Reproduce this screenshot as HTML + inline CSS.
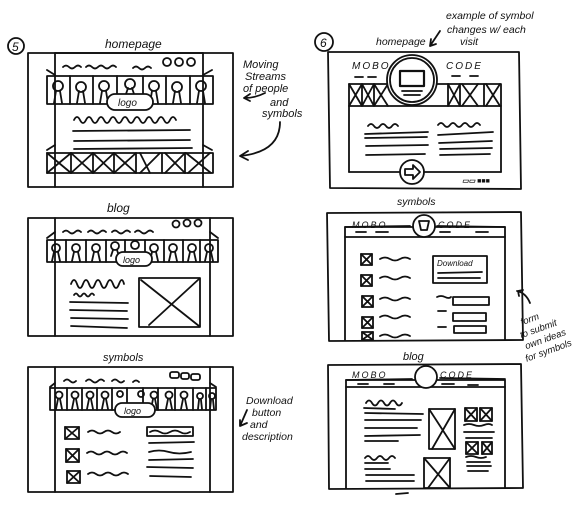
<!DOCTYPE html>
<html><head><meta charset="utf-8"><style>
html,body{margin:0;padding:0;background:#fff;width:576px;height:509px;overflow:hidden}
svg{display:block}
text{font-family:"Liberation Sans",sans-serif;font-style:italic;fill:#111}
</style></head><body>
<svg width="576" height="509" viewBox="0 0 576 509" xmlns="http://www.w3.org/2000/svg" fill="none" stroke="#111" stroke-width="1.8" stroke-linecap="round" stroke-linejoin="round">

<!-- ===== LEFT PANEL 1 : homepage ===== -->
<circle cx="16" cy="46" r="8"/>
<text x="12" y="51" font-size="12" stroke="none">5</text>
<text x="105" y="48" font-size="12" stroke="none">homepage</text>
<rect x="28" y="53" width="205" height="134"/>
<line x1="55" y1="53" x2="55" y2="187"/><line x1="203" y1="53" x2="203" y2="187"/>
<line x1="55" y1="53" x2="203" y2="53"/>
<path d="M63 67 q3 -3 6 0 t6 0 t6 0 M86 67 q3 -3 6 0 t6 0 t6 0 t6 0 t6 0 M133 68 q3 -3 6 0 t6 0 t6 0"/>
<circle cx="167" cy="62" r="4"/><circle cx="179" cy="62" r="4"/><circle cx="191" cy="62" r="4"/>
<path d="M47 70 L55 75 M203 75 L212 70"/>
<rect x="47" y="76" width="166" height="28"/>
<g>
<line x1="70" y1="76" x2="70" y2="104"/><line x1="93" y1="76" x2="93" y2="104"/><line x1="117" y1="76" x2="117" y2="104"/><line x1="143" y1="76" x2="143" y2="104"/><line x1="166" y1="76" x2="166" y2="104"/><line x1="190" y1="76" x2="190" y2="104"/>
</g>
<g>
<circle cx="58" cy="86" r="5"/><path d="M54 103 l2 -12 M62 103 l-2 -12"/>
<circle cx="81" cy="87" r="5"/><path d="M77 103 l2 -12 M85 103 l-2 -12"/>
<circle cx="104" cy="86" r="5"/><path d="M100 103 l2 -12 M108 103 l-2 -12"/>
<circle cx="130" cy="84" r="5"/><path d="M126 94 l2 -6 M134 94 l-2 -6"/>
<circle cx="154" cy="86" r="5"/><path d="M150 103 l2 -12 M158 103 l-2 -12"/>
<circle cx="177" cy="87" r="5"/><path d="M173 103 l2 -12 M181 103 l-2 -12"/>
<circle cx="201" cy="86" r="5"/><path d="M197 103 l2 -12 M205 103 l-2 -12"/>
</g>
<rect x="107" y="94" width="46" height="16" rx="8" fill="#fff"/>
<text x="118" y="106" font-size="10" stroke="none">logo</text>
<path d="M74 120 q3 -6 6 0 t6 0 t6 0 t6 0 t6 0 t6 0 t6 0 t6 0 t6 0 t6 0 t6 0 t6 0 t6 0 t6 0 t6 0 t6 0 t6 0"/>
<path d="M73 131 L190 130 M74 141 L190 140 M74 149 L192 148"/>
<path d="M47 150 L55 145 M203 145 L212 150"/>
<rect x="47" y="153" width="166" height="20"/>
<g>
<path d="M47 153 l24 20 M71 153 l-24 20"/>
<line x1="71" y1="153" x2="71" y2="173"/><path d="M71 153 l22 20 M93 153 l-22 20"/>
<line x1="93" y1="153" x2="93" y2="173"/><path d="M93 153 l21 20 M114 153 l-21 20"/>
<line x1="114" y1="153" x2="114" y2="173"/><path d="M114 153 l22 20 M136 153 l-22 20"/>
<line x1="136" y1="153" x2="136" y2="173"/><path d="M140 153 l10 20 M160 153 l-20 20"/>
<line x1="162" y1="153" x2="162" y2="173"/><path d="M165 153 l20 20 M185 153 l-20 20"/>
<line x1="185" y1="153" x2="185" y2="173"/><path d="M186 153 l25 20 M210 153 l-22 20"/>
</g>
<text x="243" y="68" font-size="11" stroke="none">Moving</text>
<text x="245" y="80" font-size="11" stroke="none">Streams</text>
<text x="243" y="92" font-size="11" stroke="none">of people</text>
<text x="270" y="106" font-size="11" stroke="none">and</text>
<text x="262" y="117" font-size="11" stroke="none">symbols</text>
<path d="M265 93 q-10 5 -20 5 M250 94 l-6 4 l6 3"/>
<path d="M280 122 q0 30 -40 34 M248 151 l-8 5 l8 4"/>

<!-- ===== LEFT PANEL 2 : blog ===== -->
<text x="107" y="212" font-size="12" stroke="none">blog</text>
<rect x="28" y="218" width="205" height="118"/>
<line x1="55" y1="218" x2="55" y2="336"/><line x1="210" y1="218" x2="210" y2="336"/>
<path d="M63 232 q3 -3 6 0 t6 0 t6 0 M88 232 q3 -3 6 0 t6 0 t6 0 M112 232 q3 -3 6 0 t6 0 t6 0 M135 232 q3 -3 6 0 t6 0 t6 0"/>
<circle cx="176" cy="224" r="3.5"/><circle cx="187" cy="223" r="3.5"/><circle cx="198" cy="223" r="3.5"/>
<path d="M47 238 L55 232 M210 232 L218 238"/>
<rect x="47" y="240" width="171" height="22"/>
<g>
<line x1="66" y1="240" x2="66" y2="262"/><line x1="86" y1="240" x2="86" y2="262"/><line x1="106" y1="240" x2="106" y2="262"/><line x1="125" y1="240" x2="125" y2="262"/><line x1="145" y1="240" x2="145" y2="262"/><line x1="164" y1="240" x2="164" y2="262"/><line x1="183" y1="240" x2="183" y2="262"/><line x1="200" y1="240" x2="200" y2="262"/>
</g>
<g>
<circle cx="56" cy="248" r="4"/><path d="M52 261 l2 -9 M60 261 l-2 -9"/>
<circle cx="76" cy="248" r="4"/><path d="M72 261 l2 -9 M80 261 l-2 -9"/>
<circle cx="96" cy="248" r="4"/><path d="M92 261 l2 -9 M100 261 l-2 -9"/>
<circle cx="115" cy="246" r="4"/><path d="M111 256 l2 -6 M119 256 l-2 -6"/>
<circle cx="135" cy="245" r="4"/>
<circle cx="154" cy="248" r="4"/><path d="M150 261 l2 -9 M158 261 l-2 -9"/>
<circle cx="173" cy="248" r="4"/><path d="M169 261 l2 -9 M177 261 l-2 -9"/>
<circle cx="192" cy="248" r="4"/><path d="M188 261 l2 -9 M196 261 l-2 -9"/>
<circle cx="209" cy="248" r="4"/><path d="M205 261 l2 -9 M213 261 l-2 -9"/>
</g>
<rect x="116" y="252" width="36" height="14" rx="7" fill="#fff"/>
<text x="123" y="263" font-size="9" stroke="none">logo</text>
<path d="M71 284 q3 -8 6 0 t6 0 t6 0 t6 0 t6 0 t6 0 t6 0 t6 0 t5 0"/>
<path d="M74 295 q2 -3 4 0 t4 0 t4 0 t4 0 t4 0"/>
<path d="M70 302 L128 303 M70 310 L127 311 M71 318 L128 319 M71 326 L127 328"/>
<rect x="139" y="278" width="61" height="49"/>
<path d="M141 280 L199 326 M199 279 L149 325"/>

<!-- ===== LEFT PANEL 3 : symbols ===== -->
<text x="103" y="361" font-size="11" stroke="none">symbols</text>
<rect x="28" y="367" width="205" height="125"/>
<line x1="55" y1="367" x2="55" y2="492"/><line x1="210" y1="367" x2="210" y2="492"/>
<path d="M64 381 q3 -3 6 0 t6 0 M86 381 q3 -3 6 0 t6 0 t6 0 M112 381 q3 -3 6 0 t6 0 M133 382 q3 -3 6 0"/>
<rect x="170" y="372" width="9" height="6" rx="2"/><rect x="181" y="373" width="8" height="6" rx="2"/><rect x="191" y="374" width="9" height="6" rx="2"/>
<path d="M50 387 L55 383 M210 383 L216 387"/>
<rect x="50" y="388" width="166" height="22"/>
<g>
<line x1="67" y1="388" x2="67" y2="410"/><line x1="82" y1="388" x2="82" y2="410"/><line x1="97" y1="388" x2="97" y2="410"/><line x1="112" y1="388" x2="112" y2="410"/><line x1="127" y1="388" x2="127" y2="410"/><line x1="143" y1="388" x2="143" y2="410"/><line x1="158" y1="388" x2="158" y2="410"/><line x1="175" y1="388" x2="175" y2="410"/><line x1="193" y1="388" x2="193" y2="410"/><line x1="206" y1="388" x2="206" y2="410"/>
</g>
<g>
<circle cx="59" cy="395" r="3.5"/><path d="M56 409 l2 -10 M62 409 l-2 -10"/>
<circle cx="75" cy="395" r="3.5"/><path d="M72 409 l2 -10 M78 409 l-2 -10"/>
<circle cx="90" cy="395" r="3.5"/><path d="M87 409 l2 -10 M93 409 l-2 -10"/>
<circle cx="105" cy="395" r="3.5"/><path d="M102 409 l2 -10 M108 409 l-2 -10"/>
<circle cx="120" cy="394" r="3"/><circle cx="141" cy="394" r="3"/>
<circle cx="154" cy="395" r="3.5"/><path d="M151 409 l2 -10 M157 409 l-2 -10"/>
<circle cx="169" cy="395" r="3.5"/><path d="M166 409 l2 -10 M172 409 l-2 -10"/>
<circle cx="184" cy="395" r="3.5"/><path d="M181 409 l2 -10 M187 409 l-2 -10"/>
<circle cx="200" cy="396" r="3"/><path d="M198 409 l1 -9 M202 409 l-1 -9"/>
<circle cx="212" cy="396" r="3"/><path d="M210 409 l1 -9 M214 409 l-1 -9"/>
</g>
<rect x="115" y="403" width="40" height="14" rx="7" fill="#fff"/>
<text x="124" y="414" font-size="9" stroke="none">logo</text>
<g>
<rect x="65" y="427" width="14" height="12"/><path d="M65 427 l14 12 M79 427 l-14 12"/>
<rect x="66" y="449" width="13" height="13"/><path d="M66 449 l13 13 M79 449 l-13 13"/>
<rect x="67" y="471" width="13" height="12"/><path d="M67 471 l13 12 M80 471 l-13 12"/>
<path d="M88 432 q4 -3 8 0 t8 0 t8 0 t8 0 M87 453 q4 -3 8 0 t8 0 t8 0 t8 0 t8 0 M88 474 q4 -3 8 0 t8 0 t8 0 t8 0 t8 0"/>
</g>
<rect x="147" y="427" width="46" height="9"/>
<path d="M150 432 q5 -3 10 0 t10 0 t10 0 t10 0"/>
<path d="M149 443 L194 442 M149 452 q10 -3 20 0 t22 0 M149 460 L193 459 M147 467 L193 468 M150 476 L191 477"/>
<text x="246" y="404" font-size="10.5" stroke="none">Download</text>
<text x="252" y="416" font-size="10.5" stroke="none">button</text>
<text x="250" y="428" font-size="10.5" stroke="none">and</text>
<text x="242" y="440" font-size="10.5" stroke="none">description</text>
<path d="M247 410 L240 426 M240 426 l7 -3 M240 426 l0 -6"/>

<!-- ===== RIGHT PANEL 1 : homepage ===== -->
<circle cx="324" cy="42" r="9"/>
<text x="320" y="47" font-size="12" stroke="none">6</text>
<text x="376" y="45" font-size="10.5" stroke="none">homepage</text>
<path d="M440 31 l-10 15 M430 46 l1 -7 M430 46 l6 -2"/>
<text x="446" y="19" font-size="10.5" stroke="none">example of symbol</text>
<text x="447" y="33" font-size="10.5" stroke="none">changes w/ each</text>
<text x="460" y="45" font-size="10.5" stroke="none">visit</text>
<path d="M328 52 L519 52 L521 189 L330 188 Z"/>
<text x="352" y="69" font-size="10" stroke="none" letter-spacing="2" font-style="normal">MOBO</text>
<text x="446" y="69" font-size="10" stroke="none" letter-spacing="2" font-style="normal">CODE</text>
<path d="M355 77 l8 0 M368 77 l8 0 M452 76 l8 0 M470 76 l8 0"/>
<rect x="349" y="84" width="152" height="22"/>
<g>
<path d="M349 84 l13 22 M362 84 l-13 22 M362 84 l0 22 M362 84 l12 22 M374 84 l-12 22 M374 84 l0 22 M374 84 l14 22 M388 84 l-14 22"/>
<path d="M448 84 l0 22 M448 84 l12 22 M460 84 l-12 22 M460 84 l0 22 M462 84 l16 22 M478 84 l-16 22 M484 84 l0 22 M486 84 l14 22 M500 84 l-14 22"/>
</g>
<circle cx="412" cy="80" r="25" fill="#fff"/>
<circle cx="412" cy="80" r="22"/>
<rect x="400" y="71" width="24" height="15" stroke-width="2.2"/>
<path d="M402 91 L422 91 M404 95 L420 95"/>
<path d="M368 126 q3 -4 6 0 t6 0 t6 0 t6 0 t6 0 M438 125 q3 -4 6 0 t6 0 t6 0 t6 0 t6 0 t6 0 t6 0"/>
<path d="M365 134 L428 132 M365 138 L427 137 M366 146 L428 145 M366 155 L425 154 M438 135 L493 132 M439 143 L492 141 M440 149 L492 148 M440 155 L490 154"/>
<line x1="349" y1="106" x2="349" y2="172"/><line x1="501" y1="106" x2="501" y2="172"/>
<line x1="349" y1="172" x2="400" y2="172"/><line x1="424" y1="172" x2="501" y2="172"/>
<circle cx="412" cy="172" r="12"/>
<path d="M405 169 L413 169 L413 165 L420 172 L413 179 L413 175 L405 175 Z"/>
<text x="462" y="183" font-size="7" stroke="none" font-weight="bold">▭▭ ■■■</text>

<!-- ===== RIGHT PANEL 2 : symbols ===== -->
<text x="397" y="205" font-size="10.5" stroke="none">symbols</text>
<path d="M327 213 L521 212 L523 340 L329 341 Z"/>
<text x="352" y="228" font-size="9" stroke="none" letter-spacing="2" font-style="normal">MOBO</text>
<text x="438" y="228" font-size="9" stroke="none" letter-spacing="2" font-style="normal">CODE</text>
<path d="M345 227 L410 226 M437 226 L505 227"/>
<rect x="345" y="227" width="160" height="10"/>
<path d="M356 232 l10 0 M376 232 l12 0 M440 232 l10 0 M476 232 l12 0"/>
<circle cx="424" cy="226" r="11" fill="#fff"/>
<path d="M419 221 L429 221 L427 230 L421 230 Z"/>
<line x1="345" y1="237" x2="345" y2="340"/><line x1="505" y1="237" x2="505" y2="340"/>
<g>
<rect x="361" y="254" width="11" height="11"/><path d="M361 254 l11 11 M372 254 l-11 11"/>
<rect x="361" y="275" width="11" height="11"/><path d="M361 275 l11 11 M372 275 l-11 11"/>
<rect x="362" y="296" width="11" height="11"/><path d="M362 296 l11 11 M373 296 l-11 11"/>
<rect x="362" y="317" width="11" height="11"/><path d="M362 317 l11 11 M373 317 l-11 11"/>
<rect x="362" y="332" width="11" height="8"/><path d="M362 332 l11 8 M373 332 l-11 8"/>
<path d="M380 259 q5 -3 10 0 t10 0 t10 0 M380 278 q5 -3 10 0 t10 0 t10 0 M380 299 q5 -3 10 0 t10 0 t10 0 M380 317 q5 -3 10 0 t10 0 t10 0 M380 336 q5 -3 10 0 t10 0 t10 0"/>
</g>
<rect x="433" y="256" width="54" height="27"/>
<text x="437" y="266" font-size="8" stroke="none" font-style="normal">Download</text>
<path d="M438 273 L482 272 M438 278 L480 278"/>
<path d="M437 297 q4 -2 8 0 t6 0 M438 311 l8 0 M438 327 l8 0"/>
<rect x="453" y="297" width="36" height="8"/><rect x="453" y="313" width="33" height="8"/><rect x="454" y="326" width="32" height="7"/>
<path d="M530 303 q-4 -10 -13 -12 M518 291 l5 -1 M518 291 l1 5"/>
<g transform="rotate(-20 540 340)">
<text x="528" y="320" font-size="9.5" stroke="none">form</text>
<text x="523" y="332" font-size="9.5" stroke="none">to submit</text>
<text x="524" y="344" font-size="9.5" stroke="none">own ideas</text>
<text x="520" y="356" font-size="9.5" stroke="none">for symbols</text>
</g>

<!-- ===== RIGHT PANEL 3 : blog ===== -->
<text x="403" y="360" font-size="11" stroke="none">blog</text>
<path d="M328 365 L521 364 L523 488 L329 489 Z"/>
<text x="352" y="378" font-size="9" stroke="none" letter-spacing="2" font-style="normal">MOBO</text>
<text x="440" y="378" font-size="9" stroke="none" letter-spacing="2" font-style="normal">CODE</text>
<path d="M346 380 L412 379 M440 378 L505 379"/>
<rect x="346" y="380" width="159" height="7"/>
<path d="M358 384 l10 0 M384 384 l10 0 M442 384 l12 0 M468 385 l10 0"/>
<circle cx="426" cy="377" r="11" fill="#fff"/>
<line x1="346" y1="387" x2="346" y2="488"/><line x1="505" y1="387" x2="505" y2="488"/>
<path d="M366 403 q3 -5 6 0 t6 0 t6 0 t6 0 t6 0 t6 0"/>
<path d="M364 408 L395 409 M365 413 L423 414 M365 420 L421 420 M365 428 L417 428 M365 436 L420 435 M365 441 L398 441"/>
<rect x="429" y="409" width="26" height="40"/><path d="M429 409 L455 449 M455 409 L432 449"/>
<rect x="465" y="408" width="12" height="13"/><path d="M465 408 l12 13 M477 408 l-12 13"/>
<rect x="480" y="408" width="12" height="13"/><path d="M480 408 l12 13 M492 408 l-12 13"/>
<path d="M464 425 q5 -2 10 0 t10 0 t8 0 M464 432 L494 432 M466 438 L492 438"/>
<rect x="466" y="442" width="12" height="12"/><path d="M466 442 l12 12 M478 442 l-12 12"/>
<rect x="482" y="442" width="10" height="12"/><path d="M482 442 l10 12 M492 442 l-10 12"/>
<path d="M466 457 q5 -2 10 0 t10 0 M467 462 L490 462 M467 466 L491 466 M468 471 L488 471"/>
<path d="M365 458 q3 -4 6 0 t6 0 t6 0 t6 0 t6 0"/>
<path d="M365 463 L388 463 M365 469 L390 469 M366 475 L414 475 M366 481 L414 481"/>
<rect x="424" y="458" width="26" height="30"/><path d="M424 458 L450 488 M450 458 L428 488"/>
<path d="M396 494 L408 493"/>
</svg>
</body></html>
